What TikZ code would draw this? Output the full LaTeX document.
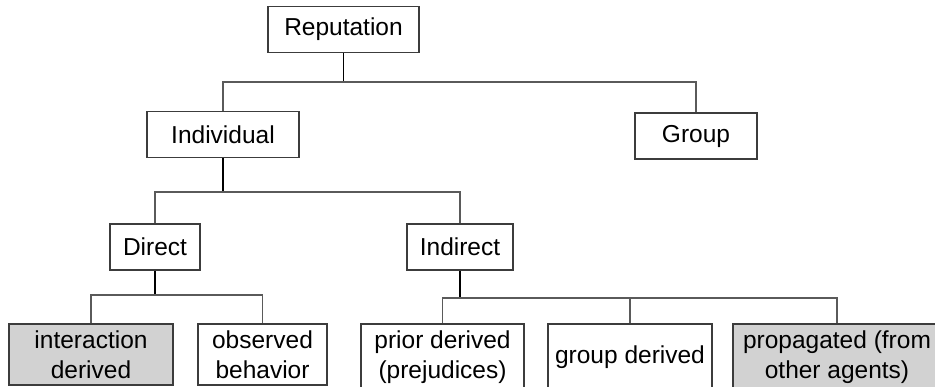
\documentclass[tikz,border=0pt]{standalone}
\usepackage{fontspec}
\setmainfont{Liberation Sans}
\definecolor{boxline}{HTML}{3C3C3C}
\definecolor{boxfill}{HTML}{D2D2D2}
\definecolor{branch}{HTML}{5A5A5A}
\begin{document}
\begin{tikzpicture}[x=1pt,y=-1pt,
  font=\fontsize{24.5}{30}\selectfont,
  box/.style={draw=boxline,line width=1.2pt,inner sep=0pt,align=center,
    minimum width=#1},
  upper/.style={box=#1,minimum height=46},
  leaf/.style={box=#1,minimum height=61},
  openleaf/.style={box=#1,minimum height=66},
  shaded/.style={fill=boxfill},
  stem/.style={line width=1.3pt,black},
  branchline/.style={line width=1.1pt,branch}]
\useasboundingbox (0,0) rectangle (935,387);
\clip (0,0) rectangle (935,387);
\fill[white] (0,0) rectangle (935,387);

\node[upper=151] (rep)  at (343.5,29.5) {Reputation};
\node[upper=152] (ind)  at (223,134.5) {Individual};
\node[upper=122] (grp)  at (696,136)   {Group};
\node[upper=90]  (dir)  at (155,247)   {Direct};
\node[upper=106] (indr) at (460,247)   {Indirect};

\node[leaf=164,shaded] (inter) at (91,354.5)  {interaction\\derived};
\node[leaf=129]        (obs)   at (262.5,354.5) {observed\\behavior};
\node[openleaf=163]    (prior) at (442.5,357) {prior derived\\(prejudices)};
\node[openleaf=164]    (grpd)  at (630,357)   {group derived};
\node[openleaf=208,shaded] (prop) at (837,357) {propagated (from\\other agents)};

\coordinate (j1) at (343.5,82);
\coordinate (j2) at (223,192);
\coordinate (j3) at (155,295);
\coordinate (j4) at (460,298);

\draw[stem] (rep.south) -- (j1);
\draw[branchline] (ind.north) |- (j1) -| (grp.north);

\draw[stem] (ind.south) -- (j2);
\draw[branchline] (dir.north) |- (j2) -| (indr.north);

\draw[stem] (dir.south) -- (j3);
\draw[branchline] (inter.north) |- (j3) -| (obs.north);

\draw[stem] (indr.south) -- (j4);
\draw[branchline] (prior.north) |- (j4) -| (prop.north);
\draw[branchline] (grpd.north) -- (grpd.north |- j4);
\end{tikzpicture}
\end{document}
